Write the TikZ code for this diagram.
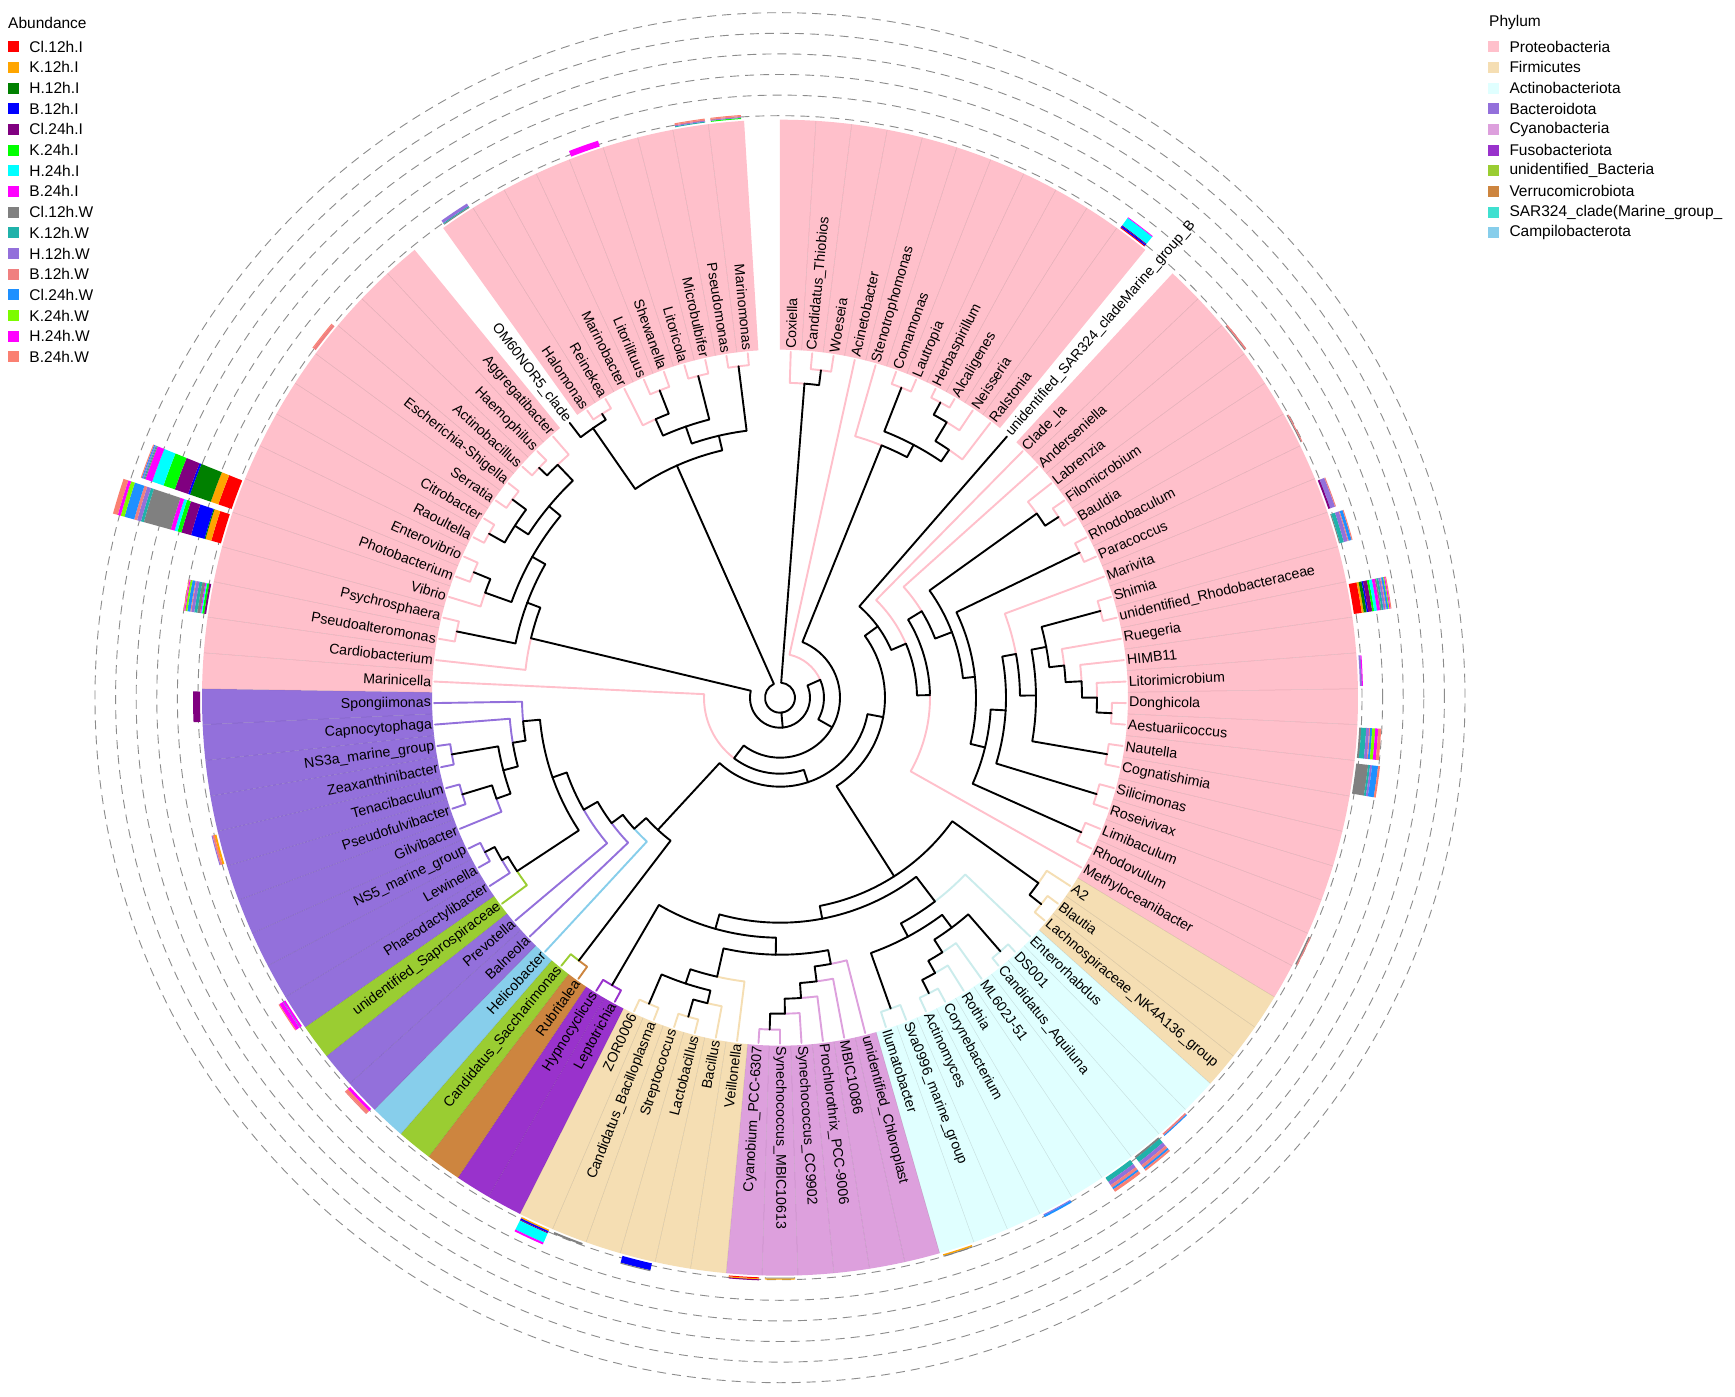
\documentclass[tikz,border=0pt]{standalone}
\usepackage{fontspec}
\setmainfont{Liberation Sans}
\definecolor{cProt}{HTML}{FFC0CB}
\definecolor{cFirm}{HTML}{F5DEB3}
\definecolor{cActi}{HTML}{E0FFFF}
\definecolor{cActiE}{HTML}{CBECEC}
\definecolor{cBact}{HTML}{9370DB}
\definecolor{cCyan}{HTML}{DDA0DD}
\definecolor{cFuso}{HTML}{9932CC}
\definecolor{cUnid}{HTML}{9ACD32}
\definecolor{cVerr}{HTML}{CD853F}
\definecolor{cSAR}{HTML}{40E0D0}
\definecolor{cCamp}{HTML}{87CEEB}
\definecolor{s1}{HTML}{FF0000}
\definecolor{s2}{HTML}{FFA500}
\definecolor{s3}{HTML}{008000}
\definecolor{s4}{HTML}{0000FF}
\definecolor{s5}{HTML}{800080}
\definecolor{s6}{HTML}{00FF00}
\definecolor{s7}{HTML}{00FFFF}
\definecolor{s8}{HTML}{FF00FF}
\definecolor{s9}{HTML}{808080}
\definecolor{s10}{HTML}{20B2AA}
\definecolor{s11}{HTML}{9370DB}
\definecolor{s12}{HTML}{F08080}
\definecolor{s13}{HTML}{1E90FF}
\definecolor{s14}{HTML}{7CFC00}
\definecolor{s15}{HTML}{FF00FF}
\definecolor{s16}{HTML}{FA8072}
\def\secNone{none}
\def\stp{3.5643564}
\newcommand\LF[3]{%
  \pgfmathsetmacro\tmpa{90-(#1-0.5)*\stp}%
  \expandafter\xdef\csname na@L#1\endcsname{\tmpa}%
  \expandafter\xdef\csname nr@L#1\endcsname{346}%
  \expandafter\xdef\csname nc@L#1\endcsname{#2}%
  \expandafter\xdef\csname fc@L#1\endcsname{#3}}
\newcommand\drawedge[2]{%
  \edef\tpA{\csname na@#1\endcsname}\edef\tpR{\csname nr@#1\endcsname}%
  \edef\tcA{\csname na@#2\endcsname}\edef\tcR{\csname nr@#2\endcsname}%
  \edef\tcC{\csname nc@#2\endcsname}%
  \draw[tree,color=\tcC] (\tpA:\tpR pt) arc[start angle=\tpA,end angle=\tcA,radius=\tpR pt] -- (\tcA:\tcR pt);}
\newcommand\ND[4]{%
  \edef\tmpx{\csname na@#3\endcsname}\edef\tmpy{\csname na@#4\endcsname}%
  \pgfmathsetmacro\tmpn{((\tmpx)+(\tmpy))/2}%
  \expandafter\xdef\csname na@#1\endcsname{\tmpn}%
  \expandafter\xdef\csname nr@#1\endcsname{#2}%
  \expandafter\xdef\csname nc@#1\endcsname{black}%
  \drawedge{#1}{#3}\drawedge{#1}{#4}}
\newcommand\LB[2]{%
  \pgfmathsetmacro\lbA{90-(#1-0.5)*\stp}%
  \ifnum#1<52\relax
    \node[lab,anchor=west,rotate=\lbA] (t#1) at (\lbA:349pt) {#2};%
  \else
    \pgfmathsetmacro\lbB{\lbA+180}%
    \node[lab,anchor=east,rotate=\lbB] (t#1) at (\lbA:349pt) {#2};%
  \fi}
\newcommand\SEC[1]{%
  \edef\secC{\csname fc@L#1\endcsname}%
  \ifx\secC\secNone\else
    \pgfmathsetmacro\secA{90-(#1-1)*\stp}%
    \pgfmathsetmacro\secB{90-(#1)*\stp}%
    \fill[color=\secC] (\secA:348pt) arc[start angle=\secA,end angle=\secB,radius=348pt] -- (\secB:578pt) arc[start angle=\secB,end angle=\secA,radius=578pt] -- cycle;%
  \fi}
\newcommand\abar[2]{%
  \pgfmathsetmacro\barA{90-(#1-0.5)*\stp+1.5}%
  \pgfmathsetmacro\barB{90-(#1-0.5)*\stp-1.5}%
  \gdef\rcur{580}%
  \foreach \cl/\ln in {#2}{%
    \pgfmathsetmacro\rnext{\rcur+\ln}%
    \fill[color=\cl] (\barA:\rcur pt) arc[start angle=\barA,end angle=\barB,radius=\rcur pt] -- (\barB:\rnext pt) arc[start angle=\barB,end angle=\barA,radius=\rnext pt] -- cycle;%
    \xdef\rcur{\rnext}}}
\begin{document}
\begin{tikzpicture}[x=1pt,y=1pt,
  tree/.style={line width=1.9pt,line cap=round,line join=round},
  sep/.style={draw=black,draw opacity=0.12,line width=0.5pt},
  dashc/.style={draw=black!45,line width=0.9pt,dash pattern=on 9pt off 6pt},
  lab/.style={inner sep=0pt,font=\fontsize{14.2}{16}\selectfont},
  legi/.style={inner sep=0pt,font=\fontsize{15.5}{18}\selectfont},
  legt/.style={inner sep=0pt,font=\fontsize{15.5}{18}\selectfont}]
\fill[white] (-780,-699.3) rectangle (955,697.7);
\useasboundingbox (-780,-699.3) rectangle (955,697.7);
% leaves
\foreach \i in {1,...,11,13,14,...,34,77,78,...,90,92,93,...,100}{\LF{\i}{cProt}{cProt}}
\LF{12}{black}{none}
\LF{91}{black}{none}
\foreach \i in {35,36,37,53,54,...,58}{\LF{\i}{cFirm}{cFirm}}
\foreach \i in {38,...,46}{\LF{\i}{cActiE}{cActi}}
\foreach \i in {47,...,52}{\LF{\i}{cCyan}{cCyan}}
\foreach \i in {59,60}{\LF{\i}{cFuso}{cFuso}}
\LF{61}{cVerr}{cVerr}
\LF{62}{cUnid}{cUnid}
\LF{63}{cCamp}{cCamp}
\LF{66}{cUnid}{cUnid}
\foreach \i in {64,65,67,68,...,76}{\LF{\i}{cBact}{cBact}}
% sectors
\foreach \i in {1,...,100}{\SEC{\i}}
\foreach \i in {2,...,11,14,15,...,90,93,94,...,100}{%
  \pgfmathsetmacro\secA{90-(\i-1)*\stp}%
  \draw[sep] (\secA:348pt) -- (\secA:578pt);}
% dashed rings
\foreach \r in {582,602.6,623.2,643.8,664.4,685}{\draw[dashc] (0,0) circle[radius=\r pt];}
% abundance bars
\abar{81}{s1/10,s2/6,s3/1,s4/14,s5/10,s6/4,s7/3,s8/4,s9/28,s10/3,s11/4,s12/3,s13/10,s14/4,s15/3,s16/5}
\abar{82}{s1/14,s2/8,s3/22,s4/2,s5/14,s6/12,s7/12,s8/7,s9/1,s10/1,s11/1,s13/1,s16/1}
\abar{79}{s5/2,s6/2,s7/1,s8/1,s9/3,s10/3,s11/3,s12/1,s13/3,s14/2,s15/1,s16/1}
\abar{76}{s5/7}
\abar{87}{s12/3,s16/1}
\abar{92}{s9/1,s10/1,s11/3}
\abar{96}{s8/6}
\abar{99}{s10/1,s11/1,s12/1,s16/1}
\abar{100}{s6/1,s11/1,s12/1,s16/1}
\abar{11}{s1/1,s4/1.5,s5/1,s7/9,s8/0.8}
\abar{15}{s9/1,s12/1.5}
\abar{18}{s9/1,s12/1}
\abar{20}{s5/2,s11/5,s12/1}
\abar{21}{s9/1,s10/4,s11/4,s12/1,s13/3,s16/1}
\abar{23}{s1/8,s2/2,s3/3,s4/1.5,s5/4,s6/2,s7/3,s8/3,s9/1.5,s10/2,s11/2,s12/1,s13/2,s14/1,s15/1,s16/1}
\abar{25}{s11/2,s8/1}
\abar{27}{s9/2,s10/5,s11/3,s12/1,s13/2,s14/3,s15/3,s16/3}
\abar{28}{s9/12,s10/2,s11/2,s13/6,s16/2}
\abar{33}{s9/1.5,s12/1}
\abar{39}{s12/2,s13/1}
\abar{40}{s9/2,s10/5,s11/4,s12/3,s13/2,s16/2}
\abar{41}{s10/5,s11/4,s12/3,s13/2,s16/3}
\abar{43}{s11/1,s13/2}
\abar{46}{s2/1.5,s9/1}
\abar{51}{s9/1,s2/1}
\abar{52}{s1/1,s2/1,s5/1}
\abar{55}{s4/7,s9/1}
\abar{57}{s9/2}
\abar{58}{s2/1.5,s4/1.5,s5/1,s7/10,s8/2}
\abar{64}{s15/3,s16/3,s12/1}
\abar{67}{s8/2,s11/1,s15/4,s16/1}
\abar{72}{s2/2,s16/2,s11/1}
% tree: top clades
\ND{a1}{330}{L2}{L3}
\ND{a2}{315}{L1}{a1}
\ND{b3}{333}{L6}{L7}
\ND{b5}{336}{L8}{L9}
\ND{b6}{322}{b5}{L10}
\ND{b7}{300}{b6}{L11}
\ND{b2}{286}{b3}{b7}
\ND{b1}{272}{L5}{b2}
% Rhodobacterales etc
\ND{c1}{332}{L16}{L17}
\ND{c2}{316}{L15}{c1}
\ND{c3}{333}{L18}{L19}
\ND{c4}{332}{L21}{L22}
\ND{c5}{332}{L26}{L27}
\ND{c6}{317}{L25}{c5}
\ND{c7}{302}{L24}{c6}
\ND{c8}{286}{L23}{c7}
\ND{c9}{271}{c4}{c8}
\ND{c10}{332}{L28}{L29}
\ND{c11}{256}{c9}{c10}
\ND{cM}{240}{L20}{c11}
\ND{c12}{331}{L30}{L31}
\ND{c13}{226}{cM}{c12}
\ND{c14}{330}{L32}{L33}
\ND{c15}{211}{c13}{c14}
\ND{c16}{196}{c3}{c15}
\ND{c17}{184}{c2}{c16}
\ND{c18}{166}{L14}{c17}
\ND{c19}{150}{c18}{L34}
\ND{c20}{137}{L13}{c19}
\ND{c21}{121}{L12}{c20}
% Firmicutes / Actino / Cyano
\ND{f1}{333}{L36}{L37}
\ND{f2}{318}{L35}{f1}
\ND{Y9}{331}{L43}{L44}
\ND{Y8}{316}{L42}{Y9}
\ND{Y7}{302}{L41}{Y8}
\ND{Y6}{336}{L39}{L40}
\ND{Y10}{287}{Y6}{Y7}
\ND{Y11}{330}{L45}{L46}
\ND{Y3}{271}{Y10}{Y11}
\ND{Y2}{256}{L38}{Y3}
\ND{q1}{332}{L51}{L52}
\ND{q2}{316}{L50}{q1}
\ND{q3}{301}{L49}{q2}
\ND{q4}{286}{L48}{q3}
\ND{q5}{271}{L47}{q4}
\ND{Q6}{332}{L55}{L56}
\ND{Q5}{314}{L54}{Q6}
\ND{Q4}{333}{L57}{L58}
\ND{Q3}{301}{Q4}{Q5}
\ND{Q1}{286}{L53}{Q3}
\ND{Q}{257}{Q1}{q5}
\ND{Z}{333}{L59}{L60}
\ND{Y1}{240}{Z}{Q}
\ND{Y}{225}{Y1}{Y2}
\ND{F}{212}{f2}{Y}
% Bacteroidota etc
\ND{G1}{331}{L61}{L62}
\ND{h1}{333}{L68}{L69}
\ND{h2}{322}{L67}{h1}
\ND{h3}{315}{L66}{h2}
\ND{xTP}{332}{L71}{L72}
\ND{xTPg}{301}{L70}{xTP}
\ND{xNZ}{333}{L73}{L74}
\ND{xNZT}{286}{xTPg}{xNZ}
\ND{xC}{271}{xNZT}{L75}
\ND{xS}{258}{xC}{L76}
\ND{H5}{241}{h3}{xS}
\ND{H4}{226}{L65}{H5}
\ND{H3}{210}{L64}{H4}
\ND{H2}{196}{L63}{H3}
\ND{H}{180}{G1}{H2}
% Gammaproteobacteria left
\ND{v1}{330}{L79}{L80}
\ND{v3}{331}{L82}{L83}
\ND{v4}{313}{L81}{v3}
\ND{v5}{334}{L84}{L85}
\ND{v6}{333}{L86}{L87}
\ND{v7}{316}{v5}{v6}
\ND{v8}{333}{L88}{L89}
\ND{v9}{322}{v8}{L90}
\ND{v10}{300}{v7}{v9}
\ND{v11}{285}{v4}{v10}
\ND{V1}{270}{v1}{v11}
\ND{V}{256}{L78}{V1}
% top-left clade
\ND{NHR}{335}{L92}{L93}
\ND{NOHR}{328}{L91}{NHR}
\ND{C7}{334}{L99}{L100}
\ND{C6}{332}{L97}{L98}
\ND{C8}{330}{L95}{L96}
\ND{C5}{305}{L94}{C8}
\ND{C3}{287}{C5}{C6}
\ND{C2}{269}{C3}{C7}
\ND{TL}{254}{NOHR}{C2}
% backbone
\ND{N105}{105}{c21}{F}
\ND{P}{89}{N105}{H}
\ND{N76}{76}{P}{L77}
\ND{N61}{60}{b1}{N76}
\ND{K1}{44}{L4}{N61}
\ND{X}{30}{K1}{V}
\ND{R0}{15}{a2}{TL}
\drawedge{R0}{X}
% labels
\LB{1}{Coxiella}
\LB{2}{Candidatus\_Thiobios}
\LB{3}{Woeseia}
\LB{4}{Acinetobacter}
\LB{5}{Stenotrophomonas}
\LB{6}{Comamonas}
\LB{7}{Lautropia}
\LB{8}{Herbaspirillum}
\LB{9}{Alcaligenes}
\LB{10}{Neisseria}
\LB{11}{Ralstonia}
\LB{12}{unidentified\_SAR324\_cladeMarine\_group\_B}
\LB{13}{Clade\_Ia}
\LB{14}{Anderseniella}
\LB{15}{Labrenzia}
\LB{16}{Filomicrobium}
\LB{17}{Bauldia}
\LB{18}{Rhodobaculum}
\LB{19}{Paracoccus}
\LB{20}{Marivita}
\LB{21}{Shimia}
\LB{22}{unidentified\_Rhodobacteraceae}
\LB{23}{Ruegeria}
\LB{24}{HIMB11}
\LB{25}{Litorimicrobium}
\LB{26}{Donghicola}
\LB{27}{Aestuariicoccus}
\LB{28}{Nautella}
\LB{29}{Cognatishimia}
\LB{30}{Silicimonas}
\LB{31}{Roseivivax}
\LB{32}{Limibaculum}
\LB{33}{Rhodovulum}
\LB{34}{Methyloceanibacter}
\LB{35}{A2}
\LB{36}{Blautia}
\LB{37}{Lachnospiraceae\_NK4A136\_group}
\LB{38}{Enterorhabdus}
\LB{39}{DS001}
\LB{40}{Candidatus\_Aquiluna}
\LB{41}{ML602J-51}
\LB{42}{Rothia}
\LB{43}{Corynebacterium}
\LB{44}{Actinomyces}
\LB{45}{Sva0996\_marine\_group}
\LB{46}{Ilumatobacter}
\LB{47}{unidentified\_Chloroplast}
\LB{48}{MBIC10086}
\LB{49}{Prochlorothrix\_PCC-9006}
\LB{50}{Synechococcus\_CC9902}
\LB{51}{Synechococcus\_MBIC10613}
\LB{52}{Cyanobium\_PCC-6307}
\LB{53}{Veillonella}
\LB{54}{Bacillus}
\LB{55}{Lactobacillus}
\LB{56}{Streptococcus}
\LB{57}{Candidatus\_Bacilloplasma}
\LB{58}{ZOR0006}
\LB{59}{Leptotrichia}
\LB{60}{Hypnocyclicus}
\LB{61}{Rubritalea}
\LB{62}{Candidatus\_Saccharimonas}
\LB{63}{Helicobacter}
\LB{64}{Balneola}
\LB{65}{Prevotella}
\LB{66}{unidentified\_Saprospiraceae}
\LB{67}{Phaeodactylibacter}
\LB{68}{Lewinella}
\LB{69}{NS5\_marine\_group}
\LB{70}{Gilvibacter}
\LB{71}{Pseudofulvibacter}
\LB{72}{Tenacibaculum}
\LB{73}{Zeaxanthinibacter}
\LB{74}{NS3a\_marine\_group}
\LB{75}{Capnocytophaga}
\LB{76}{Spongiimonas}
\LB{77}{Marinicella}
\LB{78}{Cardiobacterium}
\LB{79}{Pseudoalteromonas}
\LB{80}{Psychrosphaera}
\LB{81}{Vibrio}
\LB{82}{Photobacterium}
\LB{83}{Enterovibrio}
\LB{84}{Raoultella}
\LB{85}{Citrobacter}
\LB{86}{Serratia}
\LB{87}{Escherichia-Shigella}
\LB{88}{Actinobacillus}
\LB{89}{Haemophilus}
\LB{90}{Aggregatibacter}
\LB{91}{OM60NOR5\_clade}
\LB{92}{Halomonas}
\LB{93}{Reinekea}
\LB{94}{Marinobacter}
\LB{95}{Litorilituus}
\LB{96}{Shewanella}
\LB{97}{Litoricola}
\LB{98}{Microbulbifer}
\LB{99}{Pseudomonas}
\LB{100}{Marinomonas}
% legends
\node[legt,anchor=west] (abtitle) at (-772,674.7) {Abundance};
\foreach \k/\cl/\tx in {0/s1/Cl.12h.I,1/s2/K.12h.I,2/s3/H.12h.I,3/s4/B.12h.I,4/s5/Cl.24h.I,5/s6/K.24h.I,6/s7/H.24h.I,7/s8/B.24h.I,8/s9/Cl.12h.W,9/s10/K.12h.W,10/s11/H.12h.W,11/s12/B.12h.W,12/s13/Cl.24h.W,13/s14/K.24h.W,14/s15/H.24h.W,15/s16/B.24h.W}{%
  \pgfmathsetmacro\yy{651-\k*20.67}%
  \fill[color=\cl] (-771.7,\yy-5.5) rectangle (-760.7,\yy+5.5);
  \node[legi,anchor=west] (ab\k) at (-750.7,\yy) {\tx};}
\node[legt,anchor=west] (phtitle) at (709,674.7) {Phylum};
\foreach \k/\cl/\tx in {0/cProt/Proteobacteria,1/cFirm/Firmicutes,2/cActi/Actinobacteriota,3/cBact/Bacteroidota,4/cCyan/Cyanobacteria,5/cFuso/Fusobacteriota,6/cUnid/unidentified\_Bacteria,7/cVerr/Verrucomicrobiota,8/cSAR/SAR324\_clade(Marine\_group\_,9/cCamp/Campilobacterota}{%
  \pgfmathsetmacro\yy{651-\k*20.67}%
  \fill[color=\cl] (708.3,\yy-5.5) rectangle (719.3,\yy+5.5);
  \node[legi,anchor=west] (ph\k) at (729.3,\yy) {\tx};}
\end{tikzpicture}
\end{document}
